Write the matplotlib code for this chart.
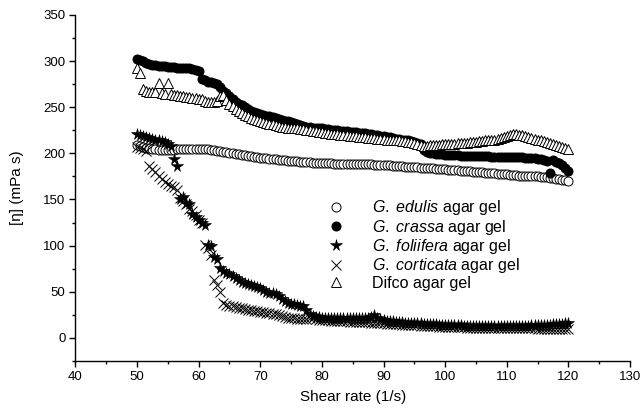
import numpy as np
import matplotlib
matplotlib.use("Agg")
import matplotlib.pyplot as plt
from matplotlib.ticker import MultipleLocator

plt.rcParams['font.family'] = ['Liberation Sans', 'DejaVu Sans']
plt.rcParams['mathtext.fontset'] = 'custom'
plt.rcParams['mathtext.rm'] = 'Liberation Sans'
plt.rcParams['mathtext.it'] = 'Liberation Sans:italic'

# Shear rate (1/s), step 0.5 from 50 to 120
shear_rate = np.arange(50.0, 120.01, 0.5)

edulis = [209, 208, 207, 206, 206, 205, 205, 204, 204, 204, 204,
          204, 204, 205, 205, 205, 205, 205, 205, 205, 205, 205,
          205, 205, 204, 204, 203, 203, 202, 201, 200, 200,
          199, 199, 198, 198, 197, 197, 196, 196, 195, 195,
          195, 194, 194, 194, 193, 193, 193, 192, 192, 192,
          192, 191, 191, 191, 191, 190, 190, 190, 190, 190,
          190, 190, 189, 189, 189, 189, 189, 189, 188, 188,
          188, 188, 188, 188, 188, 187, 187, 187, 187, 187,
          187, 186, 186, 186, 186, 185, 185, 185, 185, 185,
          184, 184, 184, 184, 184, 183, 183, 183, 183, 182,
          182, 182, 182, 181, 181, 181, 181, 180, 180, 180,
          180, 179, 179, 179, 179, 178, 178, 178, 178, 177,
          177, 177, 176, 176, 176, 176, 175, 175, 175, 174,
          174, 174, 173, 173, 172, 172, 171, 171, 170]

crassa = [302, 301, 300, 298, 297, 296, 296, 295, 295, 295, 294,
          294, 294, 293, 293, 293, 292, 292, 291, 290, 289, 281,
          279, 277, 277, 276, 275, 272, 268, 265, 262, 259,
          256, 254, 252, 250, 248, 246, 245, 244, 243, 242,
          241, 240, 239, 238, 237, 236, 235, 235, 234, 233,
          232, 231, 230, 229, 229, 228, 228, 227, 227, 226,
          226, 225, 225, 225, 224, 224, 224, 223, 223, 223,
          222, 222, 222, 221, 221, 220, 220, 219, 219, 218,
          218, 217, 216, 216, 215, 214, 214, 213, 212, 211,
          210, 204, 201, 200, 200, 199, 199, 199, 198, 198,
          198, 198, 198, 197, 197, 197, 197, 197, 197, 197,
          197, 197, 197, 196, 196, 196, 196, 196, 196, 196,
          196, 196, 196, 196, 195, 195, 195, 195, 194, 194,
          193, 192, 179, 193, 191, 190, 187, 184, 181]

foliifera = [221, 220, 219, 218, 217, 216, 215, 214, 213, 212, 210,
             208, 194, 186, 150, 153, 146, 145, 134, 131, 128, 125,
             122, 101, 100, 88, 86, 76, 72, 70, 69, 67,
             65, 63, 61, 59, 58, 57, 56, 55, 54, 52,
             50, 49, 49, 47, 45, 42, 40, 38, 37, 37,
             36, 35, 34, 30, 26, 24, 23, 23, 22, 22,
             22, 22, 21, 21, 21, 21, 21, 21, 21, 21,
             21, 21, 21, 22, 23, 25, 22, 20, 19, 18,
             18, 18, 17, 17, 17, 16, 16, 16, 16, 16,
             16, 15, 15, 15, 15, 15, 14, 14, 14, 14,
             14, 14, 14, 14, 13, 13, 13, 13, 13, 13,
             13, 13, 13, 13, 13, 13, 13, 13, 13, 13,
             13, 13, 13, 13, 13, 13, 14, 14, 14, 14,
             14, 14, 14, 15, 15, 15, 15, 16, 16]

corticata = [207, 206, 205, 203, 186, 183, 180, 175, 172, 169, 167,
             165, 163, 160, 152, 148, 145, 140, 137, 133, 128, 124,
             101, 97, 90, 63, 57, 50, 38, 36, 35, 34,
             33, 32, 32, 31, 30, 30, 29, 29, 28, 28,
             27, 27, 26, 26, 25, 24, 23, 22, 21, 21,
             20, 20, 20, 20, 21, 21, 20, 19, 19, 19,
             19, 18, 18, 18, 18, 18, 18, 17, 17, 17,
             17, 17, 17, 17, 16, 16, 16, 16, 16, 15,
             15, 15, 15, 15, 14, 14, 14, 14, 14, 14,
             13, 13, 13, 13, 13, 13, 12, 12, 12, 12,
             12, 12, 12, 12, 12, 11, 11, 11, 11, 11,
             11, 11, 11, 11, 11, 11, 11, 11, 11, 11,
             11, 11, 11, 11, 11, 11, 11, 11, 10, 10,
             10, 10, 10, 10, 10, 10, 10, 10, 10]

difco = [292, 287, 270, 268, 267, 266, 266, 276, 265, 264, 276,
         264, 263, 263, 262, 262, 261, 261, 260, 260, 259, 259,
         257, 256, 256, 256, 257, 262, 263, 258, 254, 251,
         248, 246, 244, 242, 240, 238, 237, 236, 235, 234,
         233, 232, 232, 231, 230, 229, 229, 228, 228, 227,
         227, 226, 226, 225, 225, 224, 224, 223, 223, 222,
         222, 221, 221, 221, 220, 220, 220, 219, 219, 219,
         218, 218, 218, 217, 217, 217, 216, 216, 216, 215,
         215, 215, 214, 214, 213, 213, 212, 212, 211, 210,
         209, 208, 208, 209, 209, 209, 209, 210, 210, 210,
         210, 210, 211, 211, 211, 211, 212, 212, 212, 213,
         213, 214, 214, 215, 215, 216, 217, 218, 219, 220,
         221, 221, 220, 220, 219, 218, 217, 216, 215, 214,
         213, 212, 211, 210, 209, 208, 207, 206, 205]

series_labels = [r"$\mathit{G.\ edulis}$ agar gel",
                 r"$\mathit{G.\ crassa}$ agar gel",
                 r"$\mathit{G.\ foliifera}$ agar gel",
                 r"$\mathit{G.\ corticata}$ agar gel",
                 "Difco agar gel"]

x_ticks = list(range(40, 131, 10))
y_ticks = list(range(0, 351, 50))

fig = plt.figure(figsize=(6.41, 4.12), dpi=100)
ax = fig.add_axes([0.1175, 0.124, 0.8655, 0.8396])

ax.plot(shear_rate, edulis, linestyle='none', marker='o', markersize=6.5,
        markerfacecolor='white', markeredgecolor='black', markeredgewidth=0.7,
        label=series_labels[0])
ax.plot(shear_rate, crassa, linestyle='none', marker='o', markersize=6.5,
        markerfacecolor='black', markeredgecolor='black', markeredgewidth=0.7,
        label=series_labels[1])
ax.plot(shear_rate, foliifera, linestyle='none', marker='*', markersize=8.5,
        markerfacecolor='black', markeredgecolor='black', markeredgewidth=0.4,
        label=series_labels[2])
ax.plot(shear_rate, corticata, linestyle='none', marker='x', markersize=6.5,
        markeredgecolor='black', markeredgewidth=0.7,
        label=series_labels[3])
ax.plot(shear_rate, difco, linestyle='none', marker='^', markersize=7,
        markerfacecolor='white', markeredgecolor='black', markeredgewidth=0.7,
        label=series_labels[4])

ax.set_xlim(40, 130)
ax.set_ylim(-25, 350)
ax.set_xticks(x_ticks)
ax.set_yticks(y_ticks)
ax.xaxis.set_minor_locator(MultipleLocator(5))
ax.yaxis.set_minor_locator(MultipleLocator(25))
ax.tick_params(which='major', direction='out', length=4, width=1, labelsize=9.5, pad=3)
ax.tick_params(which='minor', direction='out', length=2.5, width=1)
for s in ['top', 'right']:
    ax.spines[s].set_visible(False)
for s in ['left', 'bottom']:
    ax.spines[s].set_linewidth(1)

ax.set_xlabel("Shear rate (1/s)", fontsize=11, labelpad=5)
ax.set_ylabel("[η] (mPa s)", fontsize=11, labelpad=14)

ax.legend(loc='upper left', bbox_to_anchor=(0.455, 0.47), frameon=False,
          fontsize=11.5, handlelength=1.0, handletextpad=1.75, labelspacing=0.02,
          borderpad=0, borderaxespad=0)

fig.savefig("out.png", dpi=100)
